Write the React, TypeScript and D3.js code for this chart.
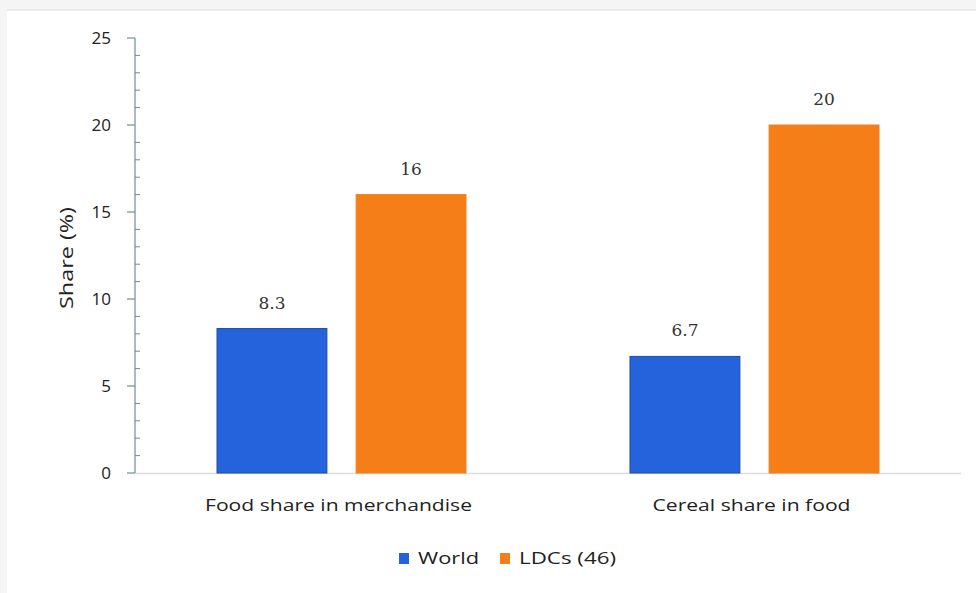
import React from "react";
import * as d3 from "d3";

const categories = ["Food share in merchandise", "Cereal share in food"];
const seriesNames = ["World", "LDCs (46)"];
const worldValues = [8.3, 6.7];
const ldcValues = [16, 20];
const valueLabels = [["8.3", "16"], ["6.7", "20"]];
const yTicks = [0, 5, 10, 15, 20, 25];

const W = 976;
const H = 593;
const left = 135;
const right = 961;
const top = 38;
const bottom = 473;
const colors = ["#2563dc", "#f67e18"];
const strokes = ["#1a4aa8", "#f67e18"];

export default function App() {
  const x = d3.scaleBand<string>().domain(categories).range([left, right]).paddingInner(0).paddingOuter(0);
  const y = d3.scaleLinear().domain([0, 25]).range([bottom, top]);
  const inner = d3.scaleBand<string>().domain(seriesNames).range([0, 249]).paddingInner(0.21);
  const minor = d3.range(0, 26, 1).filter((v) => v % 5 !== 0);
  const series = [worldValues, ldcValues];
  const sans = "'Open Sans', 'Noto Sans', sans-serif";
  const serif = "'DejaVu Serif', 'Liberation Serif', serif";
  const catWidths = [267, 198];
  return (
    <svg width={W} height={H} style={{ position: "absolute", left: 0, top: 0, background: "#fdfdfd" }}>
      <rect x={0} y={0} width={W} height={H} fill="#f5f5f5" />
      <rect x={7} y={10} width={W - 7} height={H - 10} fill="#ffffff" />
      <line x1={7} x2={W} y1={10} y2={10} stroke="#e6e6e6" strokeWidth={1.5} />
      {/* baseline */}
      <line x1={left} x2={right} y1={bottom + 0.5} y2={bottom + 0.5} stroke="#dcdcdc" strokeWidth={1.5} />
      {/* bars */}
      {categories.map((c, ci) =>
        seriesNames.map((s, si) => {
          const bx = (x(c) as number) + x.bandwidth() / 2 - 124.5 + (inner(s) as number);
          const v = series[si][ci];
          return (
            <g key={c + s}>
              <rect
                x={bx}
                y={y(v)}
                width={inner.bandwidth()}
                height={bottom - y(v)}
                fill={colors[si]}
                stroke={strokes[si]}
                strokeWidth={1}
              />
              <text
                x={bx + inner.bandwidth() / 2}
                y={y(v) - 20}
                textAnchor="middle"
                fontFamily={serif}
                fontSize={17}
                fill="#333"
              >
                {valueLabels[ci][si]}
              </text>
            </g>
          );
        })
      )}
      {/* y axis */}
      <line x1={left} x2={left} y1={top} y2={bottom} stroke="#6f8f93" strokeWidth={1.2} />
      {yTicks.map((t) => (
        <g key={t}>
          <line x1={left - 8} x2={left} y1={y(t)} y2={y(t)} stroke="#6f8f93" strokeWidth={1.2} />
          <text x={111} y={y(t)} dy="0.35em" textAnchor="end" fontFamily={sans} fontSize={17} fill="#222">
            {t}
          </text>
        </g>
      ))}
      {minor.map((t) => (
        <line key={t} x1={left} x2={left + 5} y1={y(t)} y2={y(t)} stroke="#6f8f93" strokeWidth={1} />
      ))}
      <text
        transform={`translate(73,258) rotate(-90)`}
        textAnchor="middle"
        fontFamily={sans}
        fontSize={18}
        fill="#222"
        textLength={102}
        lengthAdjust="spacingAndGlyphs"
      >
        Share (%)
      </text>
      {/* category labels */}
      {categories.map((c, ci) => (
        <text
          key={c}
          x={(x(c) as number) + x.bandwidth() / 2 - 3}
          y={511}
          textAnchor="middle"
          fontFamily={sans}
          fontSize={17}
          fill="#222"
          textLength={catWidths[ci]}
          lengthAdjust="spacingAndGlyphs"
        >
          {c}
        </text>
      ))}
      {/* legend */}
      {seriesNames.map((s, si) => {
        const lx = [399, 500][si];
        return (
          <g key={s}>
            <rect x={lx} y={553} width={10} height={11} fill={colors[si]} />
            <text
              x={lx + 19}
              y={564}
              fontFamily={sans}
              fontSize={16}
              fill="#222"
              textLength={[61, 97][si]}
              lengthAdjust="spacingAndGlyphs"
            >
              {s}
            </text>
          </g>
        );
      })}
    </svg>
  );
}
